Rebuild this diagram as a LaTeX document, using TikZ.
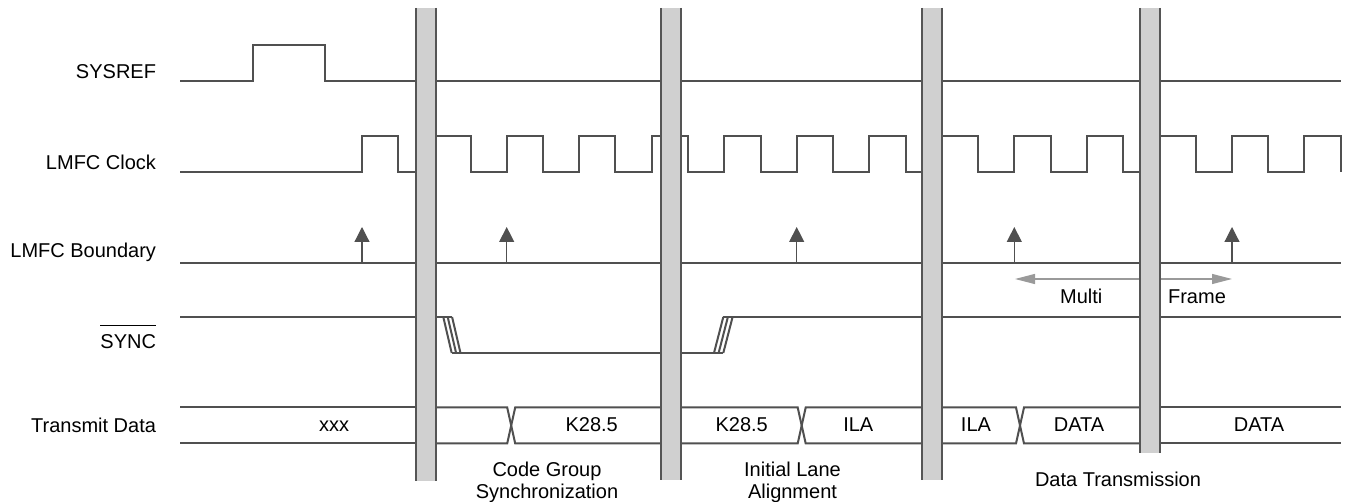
\documentclass[tikz,border=0pt]{standalone}
\usepackage{fontspec}
\setmainfont{Liberation Sans}
\usetikzlibrary{arrows.meta}
\definecolor{sigline}{HTML}{505050}
\definecolor{barfill}{HTML}{D0D0D0}
\definecolor{baredge}{HTML}{555555}
\definecolor{mfgray}{HTML}{9A9A9A}
\begin{document}
\begin{tikzpicture}[x=0.5pt,y=-0.5pt,line width=1pt,
 sig/.style={draw=sigline},
 lbl/.style={anchor=base east,inner sep=0pt},
 val/.style={anchor=base,inner sep=0pt},
 phase/.style={anchor=north,inner sep=0pt,align=center,font=\fontsize{10}{10.9}\selectfont}]
 \useasboundingbox(0,0)rectangle(1346,502);
 % row labels
 \node[lbl](sysreflbl)at(157,78.3){SYSREF};
 \node[lbl](clklbl)at(157,169.3){LMFC Clock};
 \node[lbl](bndlbl)at(157,257.3){LMFC Boundary};
 \node[lbl](synclbl)at(157,348.3){$\overline{\mbox{\rule{0pt}{10pt}SYNC}}$};
 \node[lbl](txlbl)at(157,432.3){Transmit Data};
 % SYSREF
 \draw[sig](180,81)--(253,81)--(253,45)--(325,45)--(325,81)--(1341,81);
 % LMFC clock
 \draw[sig](180,172)-|(362,136)-|(398,172)--(417,172);
 \draw[sig](436,136)-|(470.7,172)-|(506.7,136)-|(543.3,172)-|(579.3,136)-|(615.3,172)-|(651.7,136)--(661,136);
 \draw[sig](681,136)-|(687.7,172)-|(724,136)-|(760.7,172)-|(796.7,136)-|(833.3,172)-|(869.3,136)-|(905.7,172)--(922,172);
 \draw[sig](942,136)-|(978.3,172)-|(1014.3,136)-|(1050.7,172)-|(1086.7,136)-|(1123.3,172)--(1140,172);
 \draw[sig](1159,136)-|(1195.7,172)-|(1232,136)-|(1268.3,172)-|(1304,136)-|(1340.7,172);
 % LMFC boundary
 \draw[sig](180,263)--(1341,263);
 \foreach \x in {362,506.7,796.7,1014.3,1232}{\draw[sigline,line width=0.6pt,-{Triangle[width=7.5pt,length=7.5pt]}](\x,263)--(\x,227);}
 \coordinate(mfl)at(1015,279);\coordinate(mfr)at(1232,279);
 \draw[mfgray,line width=0.6pt,{Triangle[width=5pt,length=10pt]}-{Triangle[width=5pt,length=10pt]}](mfl)--(mfr);
 \node[val](multilbl)at(1081.3,304){Multi};
 \node[val](framelbl)at(1197,304){Frame};
 % SYNC
 \draw[sig](180,317)--(417,317);
 \draw[sig](436,317)--(452,317);
 \foreach \d in {0,4.4,8.8}{\draw[sig](443.3+\d,317)--(451.7+\d,353);}
 \draw[sig](451.7,353)--(661,353);
 \draw[sig](681,353)--(723.3,353);
 \foreach \d in {0,4.6,9.3}{\draw[sig](714+\d,353)--(723.3+\d,317);}
 \draw[sig](723.3,317)--(1341,317);
 % transmit data
 \foreach \a/\b in {180/417,1159/1341}{\draw[sig](\a,407.5)--(\b,407.5)(\a,443.5)--(\b,443.5);}
 \foreach \a/\m/\b in {436/511.2/661,681/801.7/922,942/1020/1140}{
  \draw[sig](\a,407.5)--(\m-4,407.5)--(\m+4,443.5)--(\b,443.5);
  \draw[sig](\a,443.5)--(\m-4,443.5)--(\m+4,407.5)--(\b,407.5);}
 \node[val](xxxlbl)at(334,432){xxx};
 \node[val](kaval)at(591.7,432){K28.5};
 \node[val](kbval)at(741.7,432){K28.5};
 \node[val](ilaaval)at(858.3,432){ILA};
 \node[val](ilabval)at(976,432){ILA};
 \node[val](dataaval)at(1079,432){DATA};
 \node[val](databval)at(1259,432){DATA};
 % time breaks
 \foreach \x/\b in {426/481,670.7/480,932/480,1149.7/453}{
  \fill[barfill](\x-9.8,8)rectangle(\x+9.8,\b);
  \draw[baredge](\x-9.8,8)--(\x-9.8,\b)(\x+9.8,8)--(\x+9.8,\b);}
 % phases
 \node[phase](cgslbl)at(547,461.5){Code Group\\Synchronization};
 \node[phase](ilalbl)at(792.5,461.5){Initial Lane\\Alignment};
 \node[val](dtlbl)at(1118,486.7){Data Transmission};
\end{tikzpicture}
\end{document}
